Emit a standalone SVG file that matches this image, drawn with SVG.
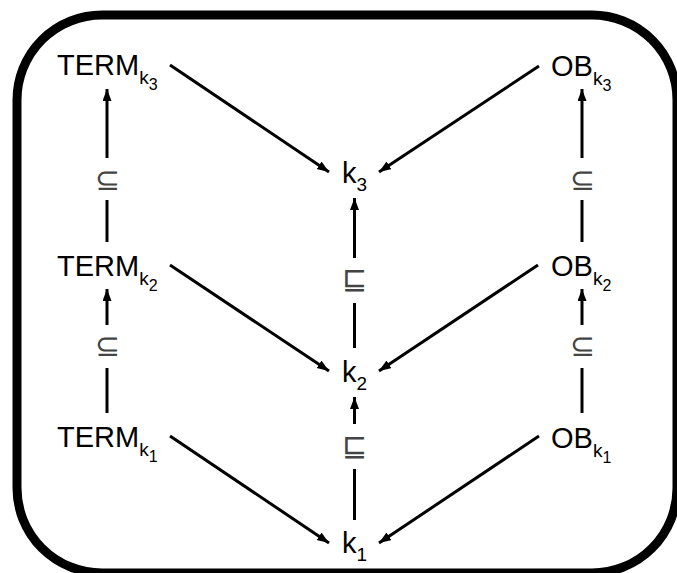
<svg xmlns="http://www.w3.org/2000/svg" width="677" height="573" viewBox="0 0 677 573">
<style>
.lbl{font-family:"Liberation Sans",Arial,sans-serif;font-size:29px;fill:#000}
.s1{font-size:19px}
.s2{font-size:16px}
.rel{font-family:"DejaVu Sans",sans-serif;font-size:30px;font-weight:200;fill:#444;text-anchor:middle}
.ln{stroke:#000;stroke-width:3;fill:none}
</style>
<defs>
<marker id="ah" markerUnits="userSpaceOnUse" markerWidth="13" markerHeight="10" refX="12" refY="4.5" orient="auto">
<path d="M0,0 L12,4.5 L0,9 z" fill="#000"/>
</marker>
<clipPath id="page"><rect x="0" y="0" width="677" height="573"/></clipPath>
</defs>
<rect width="677" height="573" fill="#fff"/>
<g clip-path="url(#page)">
<rect x="17" y="15" width="660" height="558" rx="85" ry="85" fill="none" stroke="#000" stroke-width="9"/>
</g>
<g id="connectors">
<line class="ln" x1="107" y1="158" x2="107" y2="89" marker-end="url(#ah)"/>
<line class="ln" x1="107" y1="200" x2="107" y2="242"/>
<line class="ln" x1="107" y1="325" x2="107" y2="289" marker-end="url(#ah)"/>
<line class="ln" x1="107" y1="368" x2="107" y2="413"/>
<line class="ln" x1="354.5" y1="258" x2="354.5" y2="198" marker-end="url(#ah)"/>
<line class="ln" x1="354.5" y1="303" x2="354.5" y2="348"/>
<line class="ln" x1="354.5" y1="424" x2="354.5" y2="397" marker-end="url(#ah)"/>
<line class="ln" x1="354.5" y1="469" x2="354.5" y2="520"/>
<line class="ln" x1="582" y1="158" x2="582" y2="89" marker-end="url(#ah)"/>
<line class="ln" x1="582" y1="200" x2="582" y2="242"/>
<line class="ln" x1="582" y1="325" x2="582" y2="289" marker-end="url(#ah)"/>
<line class="ln" x1="582" y1="368" x2="582" y2="413"/>
<line class="ln" x1="170" y1="65" x2="329" y2="172" marker-end="url(#ah)"/>
<line class="ln" x1="539" y1="66" x2="379" y2="172" marker-end="url(#ah)"/>
<line class="ln" x1="170" y1="265" x2="329" y2="371" marker-end="url(#ah)"/>
<line class="ln" x1="538" y1="265" x2="379" y2="371" marker-end="url(#ah)"/>
<line class="ln" x1="170" y1="436" x2="329" y2="543" marker-end="url(#ah)"/>
<line class="ln" x1="539" y1="436" x2="379" y2="543" marker-end="url(#ah)"/>
<text class="rel" x="107" y="190">⊆</text>
<text class="rel" x="107" y="356">⊆</text>
<text class="rel" x="582" y="190">⊆</text>
<text class="rel" x="582" y="356">⊆</text>
<text class="rel" x="354.5" y="289">⊑</text>
<text class="rel" x="354.5" y="456">⊑</text>
</g>
<g id="term3"><text class="lbl" x="57" y="75">TERM<tspan class="s1" dy="9">k</tspan><tspan class="s2" dy="6">3</tspan></text></g>
<g id="term2"><text class="lbl" x="57" y="276">TERM<tspan class="s1" dy="9">k</tspan><tspan class="s2" dy="6">2</tspan></text></g>
<g id="term1"><text class="lbl" x="57" y="447">TERM<tspan class="s1" dy="9">k</tspan><tspan class="s2" dy="6">1</tspan></text></g>
<g id="ob3"><text class="lbl" x="551" y="76">OB<tspan class="s1" dy="9">k</tspan><tspan class="s2" dy="6">3</tspan></text></g>
<g id="ob2"><text class="lbl" x="551" y="276">OB<tspan class="s1" dy="9">k</tspan><tspan class="s2" dy="6">2</tspan></text></g>
<g id="ob1"><text class="lbl" x="551" y="448">OB<tspan class="s1" dy="9">k</tspan><tspan class="s2" dy="6">1</tspan></text></g>
<g id="k3"><text class="lbl" x="342" y="183">k<tspan class="s1" dy="8">3</tspan></text></g>
<g id="k2"><text class="lbl" x="342" y="382">k<tspan class="s1" dy="8">2</tspan></text></g>
<g id="k1"><text class="lbl" x="342" y="553">k<tspan class="s1" dy="8">1</tspan></text></g>
</svg>
